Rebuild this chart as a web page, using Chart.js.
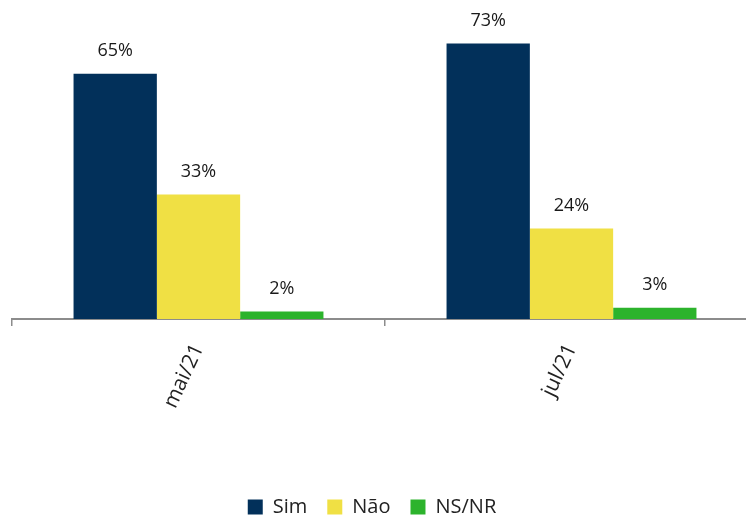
<!DOCTYPE html>
<html>
<head>
<meta charset="utf-8">
<script src="https://cdn.jsdelivr.net/npm/chart.js@4/dist/chart.umd.min.js"></script>
<style>
  html, body { margin: 0; padding: 0; background: #fff; overflow: hidden; }
  #wrap { position: relative; width: 760px; height: 530px; }
</style>
</head>
<body>
<div id="wrap"><canvas id="chart"></canvas></div>
<script>
// values
const periods = ["mai/21", "jul/21"];
const sim = [65, 73];
const nao = [33, 24];
const nsnr = [2, 3];

// draw the % value above each bar
const valueLabels = {
  id: 'valueLabels',
  afterDatasetsDraw(chart) {
    const ctx = chart.ctx;
    ctx.save();
    ctx.font = '18px "Open Sans"';
    ctx.fillStyle = '#1a1a1a';
    ctx.textAlign = 'center';
    ctx.textBaseline = 'bottom';
    chart.data.datasets.forEach((ds, i) => {
      chart.getDatasetMeta(i).data.forEach((bar, j) => {
        ctx.fillText(ds.data[j] + '%', bar.x, bar.y - 14);
      });
    });
    ctx.restore();
  }
};

var config = {
  type: 'bar',
  data: {
    labels: periods,
    datasets: [
      { label: 'Sim', data: sim, backgroundColor: '#02305a' },
      { label: 'Não', data: nao, backgroundColor: '#f0e044' },
      { label: 'NS/NR', data: nsnr, backgroundColor: '#2cb32c' }
    ]
  },
  options: {
    responsive: true,
    maintainAspectRatio: false,
    animation: false,
    layout: { padding: { top: 17, left: 12, right: 2, bottom: 3 } },
    datasets: {
      bar: { categoryPercentage: 0.67, barPercentage: 1.0 }
    },
    plugins: {
      legend: {
        position: 'bottom',
        labels: {
          font: { family: 'Open Sans', size: 20 },
          color: '#222',
          boxWidth: 15,
          boxHeight: 15,
          padding: 20
        }
      },
      tooltip: { enabled: false }
    },
    scales: {
      y: { display: false, min: 0, max: 80 },
      x: {
        grid: { drawOnChartArea: false, drawTicks: true, tickLength: 7, color: '#8c8c8c', lineWidth: 1.5 },
        border: { color: '#8c8c8c', width: 2 },
        ticks: {
          font: { family: 'Open Sans', size: 21 },
          color: '#222',
          minRotation: 65,
          maxRotation: 65,
          padding: 14
        },
        afterFit(scale) { scale.height = 158; }
      }
    }
  },
  plugins: [valueLabels]
};

var chart = new Chart(document.getElementById('chart'), config);

// canvas is wider than the window, so nudge the legend back to the visible centre
const legendDraw = chart.legend.draw;
chart.legend.draw = function () {
  this.ctx.save();
  this.ctx.translate(-13, 0);
  legendDraw.apply(this, arguments);
  this.ctx.restore();
};
chart.update();
</script>
</body>
</html>
